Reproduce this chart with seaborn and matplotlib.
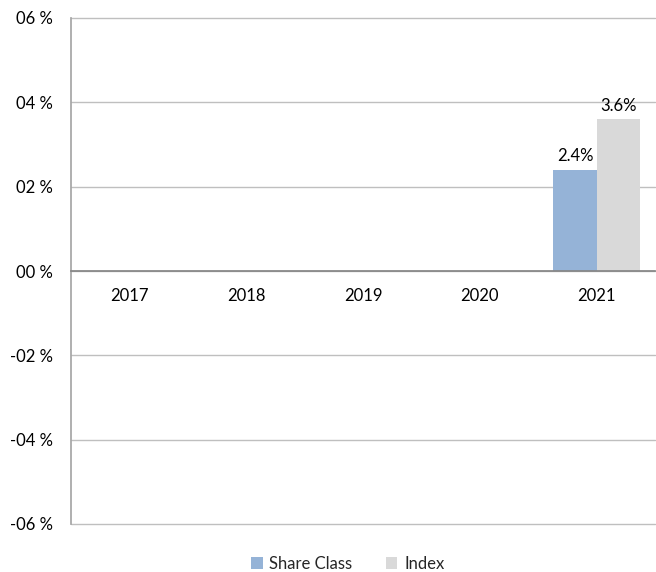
import numpy as np
import pandas as pd
import seaborn as sns
import matplotlib.pyplot as plt
from matplotlib.patches import Patch
from matplotlib.ticker import FuncFormatter

years = ["2017", "2018", "2019", "2020", "2021"]
share_class = [np.nan, np.nan, np.nan, np.nan, 2.4]
index_vals = [np.nan, np.nan, np.nan, np.nan, 3.6]
series_names = ["Share Class", "Index"]
colors = ["#95b3d7", "#d9d9d9"]
yticks = [-6, -4, -2, 0, 2, 4, 6]

df = pd.DataFrame({
    "year": years * 2,
    "value": share_class + index_vals,
    "series": [series_names[0]] * 5 + [series_names[1]] * 5,
})

sns.set_theme(style="white")
plt.rcParams["font.family"] = ["Lato", "DejaVu Sans"]

fig = plt.figure(figsize=(6.56, 5.72), dpi=100)
ax = fig.add_axes([71 / 656, 1 - 524 / 572, (655 - 71) / 656, (524 - 18) / 572])

sns.barplot(data=df, x="year", y="value", hue="series", order=years,
            hue_order=series_names, palette=colors, width=0.74,
            saturation=1, ax=ax, legend=False, errorbar=None, linewidth=0)

for cont in ax.containers:
    labels = ["" if np.isnan(v) else f"{v:.1f}%" for v in cont.datavalues]
    ax.bar_label(cont, labels=labels, padding=4, fontsize=12, color="#000000")

ax.set_ylim(-6, 6)
ax.set_xlim(-0.5, 4.5)
ax.set_yticks(yticks)
ax.yaxis.set_major_formatter(FuncFormatter(
    lambda v, p: ("-" if v < 0 else "") + f"{abs(int(round(v))):02d} %"))
ax.grid(axis="y", color="#bfbfbf", linewidth=1)
for gl in ax.get_ygridlines():
    gl.set_clip_on(False)
ax.set_axisbelow(True)
ax.spines["top"].set_visible(False)
ax.spines["right"].set_visible(False)
ax.spines["left"].set_color("#a6a6a6")
ax.spines["bottom"].set_position(("data", 0))
ax.spines["bottom"].set_color("#868686")
ax.spines["bottom"].set_zorder(3)
ax.tick_params(axis="x", length=0, pad=12, labelsize=12, colors="#000000")
ax.tick_params(axis="y", length=0, pad=13, labelsize=12, colors="#000000")
ax.set_xlabel("")
ax.set_ylabel("")

handles = [Patch(facecolor=c, edgecolor="none") for c in colors]
fig.legend(handles, series_names, loc="center", bbox_to_anchor=(0.53, 1 - 564 / 572),
           ncol=2, frameon=False, fontsize=12, handlelength=0.7, handleheight=0.7,
           handletextpad=0.4, columnspacing=2.0)

fig.savefig("out.png", dpi=100)
